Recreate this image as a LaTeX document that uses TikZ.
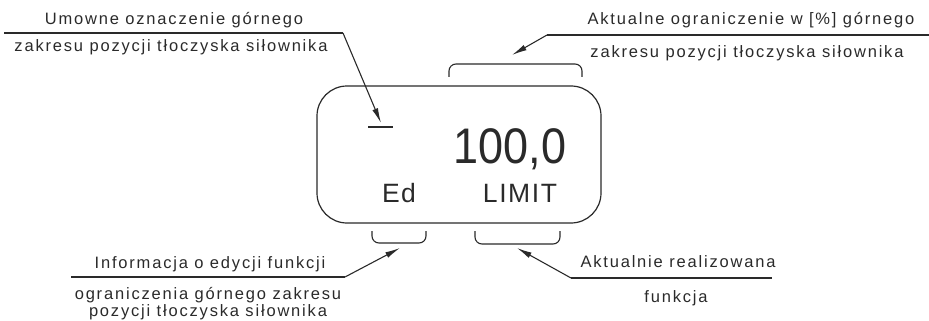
\documentclass[tikz,border=0pt]{standalone}
\usepackage{fontspec}
\setmainfont{Liberation Sans}
\newfontfamily\labfont{Liberation Sans}[LetterSpace=11]
\newfontfamily\dispfont{Liberation Sans}[LetterSpace=6]
\usetikzlibrary{arrows.meta}
\definecolor{ink}{HTML}{2A2A2A}
\begin{document}
\begin{tikzpicture}[x=1pt,y=-1pt,
  lab/.style={inner sep=0pt,anchor=base,text=ink,font=\labfont\fontsize{16.5}{18}\selectfont},
  disp/.style={inner sep=0pt,anchor=base,text=ink,font=\dispfont\fontsize{26.5}{28}\selectfont},
  big/.style={inner sep=0pt,anchor=base,text=ink,font=\fontsize{50}{52}\selectfont},
  ln/.style={draw=ink,line width=1.2pt},
  leader/.style={draw=ink,line width=1.1pt,-{Latex[length=15pt,width=6pt]}},
  brk/.style={draw=ink,line width=1.1pt,rounded corners=7pt}]
\useasboundingbox (0,0) rectangle (929,321);

% display box
\draw[ln,rounded corners=30pt] (317,86) rectangle (601,223);
\node[big] (val) at (510,163) {\scalebox{0.9}[1]{100,0}};
\node[disp] (ed) at (399,202) {Ed};
\node[disp] (lim) at (520,202) {LIMIT};
\coordinate (dashL) at (368,127);
\coordinate (dashR) at (393,127);
\draw[ln] (dashL) -- (dashR);

% brackets
\draw[brk] (449,77) -- (449,64) -- (582,64) -- (582,77);
\draw[brk] (372,231) -- (372,243) -- (426,243) -- (426,231);
\draw[brk] (475,231) -- (475,244) -- (560,244) -- (560,231);

% top-left label
\node[lab] (t1a) at (174,25) {Umowne oznaczenie górnego};
\node[lab] (t1b) at (171,52) {zakresu pozycji tłoczyska siłownika};
\coordinate (u1s) at (4,33);
\coordinate (u1e) at (343,33);
\coordinate (a1) at (381,123);
\draw[ln] (u1s) -- (u1e);
\draw[leader] (u1e) -- (a1);

% top-right label
\node[lab] (t2a) at (751,25) {Aktualne ograniczenie w [\%] górnego};
\node[lab] (t2b) at (747,58) {zakresu pozycji tłoczyska siłownika};
\coordinate (u2s) at (547,35);
\coordinate (u2e) at (929,35);
\coordinate (a2) at (512,55);
\draw[ln] (u2s) -- (u2e);
\draw[leader] (u2s) -- (a2);

% bottom-left label
\node[lab] (t3a) at (210,268) {Informacja o edycji funkcji};
\node[lab] (t3b) at (208,299) {ograniczenia górnego zakresu};
\node[lab] (t3c) at (208,316) {pozycji tłoczyska siłownika};
\coordinate (u3s) at (71,277);
\coordinate (u3e) at (345,277);
\coordinate (a3) at (400,248);
\draw[ln] (u3s) -- (u3e);
\draw[leader] (u3e) -- (a3);

% bottom-right label
\node[lab] (t4a) at (678,267) {Aktualnie realizowana};
\node[lab] (t4b) at (676,302) {funkcja};
\coordinate (u4s) at (571,278);
\coordinate (u4e) at (772,278);
\coordinate (a4) at (517,248);
\draw[ln] (u4s) -- (u4e);
\draw[leader] (u4s) -- (a4);
\end{tikzpicture}
\end{document}
